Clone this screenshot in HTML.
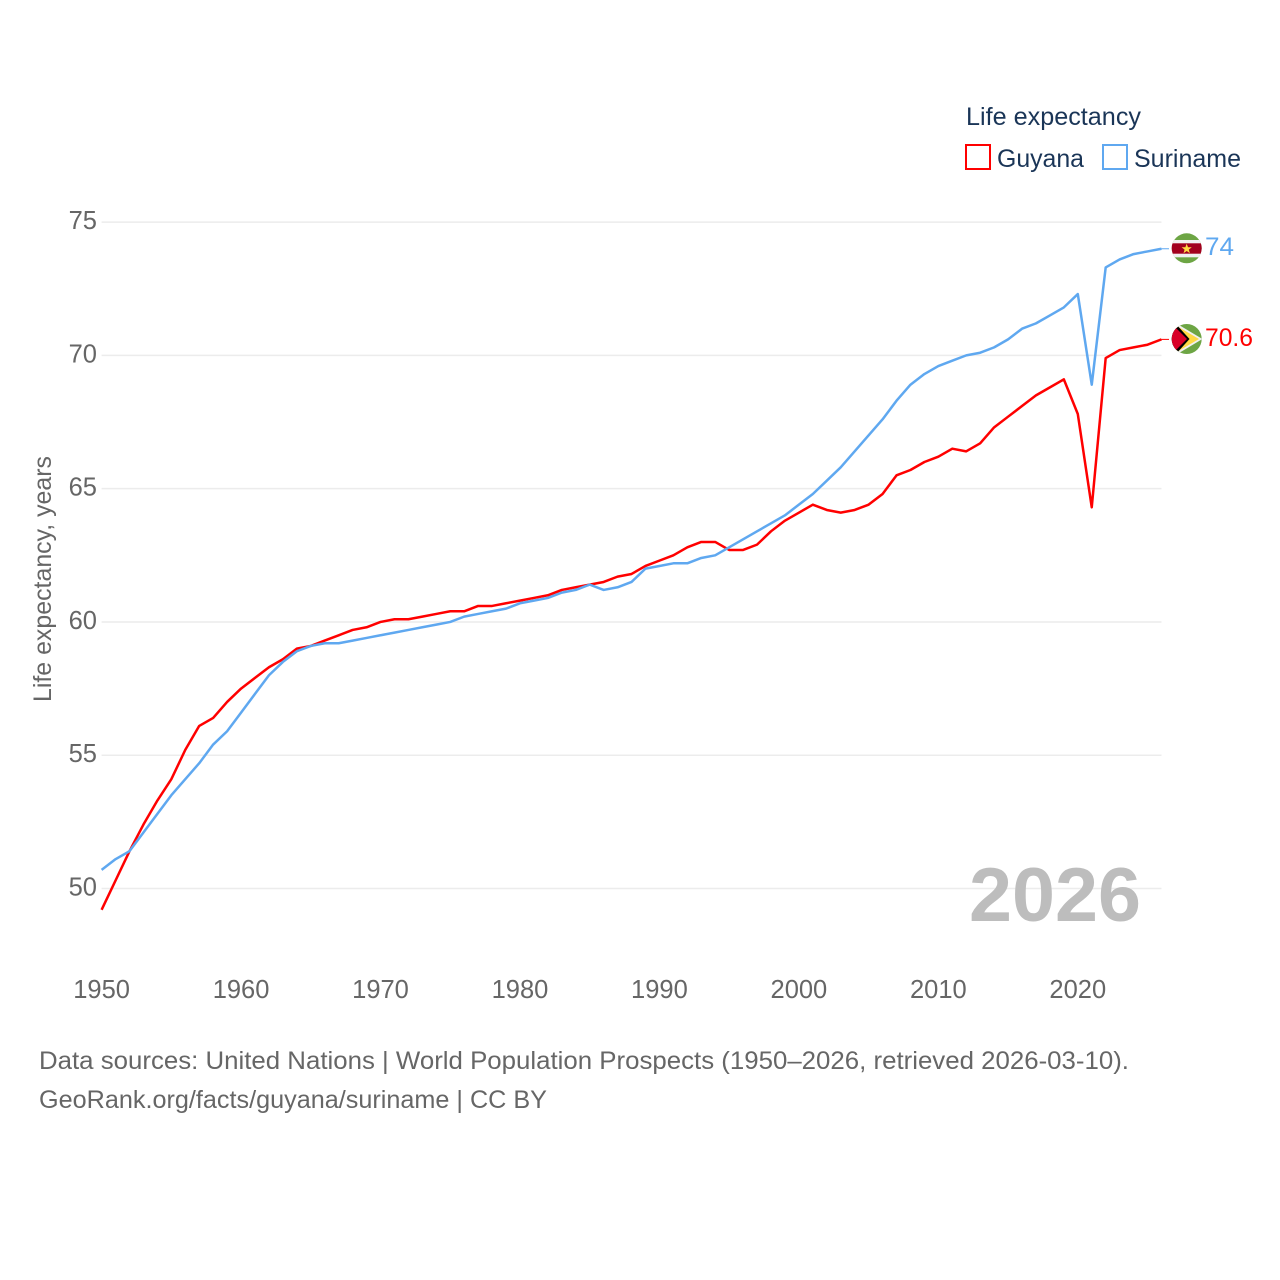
<!DOCTYPE html>
<html lang="en">
<head>
<meta charset="utf-8">
<title>Life expectancy: Guyana and Suriname</title>
<style>
html,body{margin:0;padding:0;background:#fff;}
svg{display:block;font-family:"Liberation Sans",sans-serif;}
</style>
</head>
<body>
<svg id="chart" xmlns="http://www.w3.org/2000/svg" width="1280" height="1280" viewBox="0 0 1280 1280">
  <rect width="1280" height="1280" fill="#fff"/>
  <g id="grid"></g>
  <g id="ylabels"></g>
  <g id="xlabels"></g>
  <text transform="translate(51,579) rotate(-90)" text-anchor="middle" font-size="25" fill="#666" textLength="246" lengthAdjust="spacingAndGlyphs">Life expectancy, years</text>
  <text x="969" y="921" font-size="76" font-weight="bold" fill="#bdbdbd" textLength="172" lengthAdjust="spacingAndGlyphs">2026</text>
  <g id="series"></g>

  <g>
    <clipPath id="clip-sr"><circle cx="1186.7" cy="248.3" r="15"/></clipPath>
    <g clip-path="url(#clip-sr)">
      <rect x="1171" y="233" width="31" height="31" fill="#6da544"/>
      <rect x="1171" y="240" width="31" height="17.3" fill="#f0f0f0"/>
      <rect x="1171" y="243.3" width="31" height="10.4" fill="#a2001d"/>
      <polygon points="1186.7,243.7 1188,247.3 1191.8,247.3 1188.8,249.6 1189.9,253.3 1186.7,251 1183.5,253.3 1184.6,249.6 1181.6,247.3 1185.4,247.3" fill="#ffda44"/>
    </g>
  </g>
  <g>
    <clipPath id="clip-gy"><circle cx="1186.7" cy="339" r="15"/></clipPath>
    <g clip-path="url(#clip-gy)">
      <rect x="1171" y="323" width="31" height="32" fill="#6da544"/>
      <polygon points="1174,322 1202.5,339 1174,356" fill="#f0f0f0"/>
      <polygon points="1176,325.5 1199,339 1176,352.5" fill="#ffda44"/>
      <polygon points="1171,323 1175,323 1189.5,339 1175,355 1171,355" fill="#000"/>
      <polygon points="1171,325 1173.5,325.5 1187,339 1173.5,352.5 1171,353" fill="#d80027"/>
    </g>
  </g>

  <text x="1205" y="255" font-size="25" fill="#5fa8f0" textLength="29" lengthAdjust="spacingAndGlyphs">74</text>
  <text x="1205" y="346" font-size="25" fill="#ff0000" textLength="48" lengthAdjust="spacingAndGlyphs">70.6</text>

  <g>
    <text x="966" y="125" font-size="25" fill="#1a3557" textLength="175" lengthAdjust="spacingAndGlyphs">Life expectancy</text>
    <g>
      <rect x="966" y="145" width="24" height="24" fill="#fff" stroke="#ff0000" stroke-width="2"/>
      <text x="997" y="167" font-size="25" fill="#1a3557" textLength="87" lengthAdjust="spacingAndGlyphs">Guyana</text>
    </g>
    <g>
      <rect x="1103" y="145" width="24" height="24" fill="#fff" stroke="#5fa8f0" stroke-width="2"/>
      <text x="1134" y="167" font-size="25" fill="#1a3557" textLength="107" lengthAdjust="spacingAndGlyphs">Suriname</text>
    </g>
  </g>

  <text x="39" y="1069" font-size="25" fill="#666" textLength="1090" lengthAdjust="spacingAndGlyphs">Data sources: United Nations | World Population Prospects (1950–2026, retrieved 2026-03-10).</text>
  <text x="39" y="1108" font-size="25" fill="#666" textLength="508" lengthAdjust="spacingAndGlyphs">GeoRank.org/facts/guyana/suriname | CC BY</text>
</svg>
<script>
const years = [1950,1951,1952,1953,1954,1955,1956,1957,1958,1959,1960,1961,1962,1963,1964,1965,1966,1967,1968,1969,1970,1971,1972,1973,1974,1975,1976,1977,1978,1979,1980,1981,1982,1983,1984,1985,1986,1987,1988,1989,1990,1991,1992,1993,1994,1995,1996,1997,1998,1999,2000,2001,2002,2003,2004,2005,2006,2007,2008,2009,2010,2011,2012,2013,2014,2015,2016,2017,2018,2019,2020,2021,2022,2023,2024,2025,2026];
const guyana = [49.2,50.3,51.4,52.4,53.3,54.1,55.2,56.1,56.4,57.0,57.5,57.9,58.3,58.6,59.0,59.1,59.3,59.5,59.7,59.8,60.0,60.1,60.1,60.2,60.3,60.4,60.4,60.6,60.6,60.7,60.8,60.9,61.0,61.2,61.3,61.4,61.5,61.7,61.8,62.1,62.3,62.5,62.8,63.0,63.0,62.7,62.7,62.9,63.4,63.8,64.1,64.4,64.2,64.1,64.2,64.4,64.8,65.5,65.7,66.0,66.2,66.5,66.4,66.7,67.3,67.7,68.1,68.5,68.8,69.1,67.8,64.3,69.9,70.2,70.3,70.4,70.6];
const suriname = [50.7,51.1,51.4,52.1,52.8,53.5,54.1,54.7,55.4,55.9,56.6,57.3,58.0,58.5,58.9,59.1,59.2,59.2,59.3,59.4,59.5,59.6,59.7,59.8,59.9,60.0,60.2,60.3,60.4,60.5,60.7,60.8,60.9,61.1,61.2,61.4,61.2,61.3,61.5,62.0,62.1,62.2,62.2,62.4,62.5,62.8,63.1,63.4,63.7,64.0,64.4,64.8,65.3,65.8,66.4,67.0,67.6,68.3,68.9,69.3,69.6,69.8,70.0,70.1,70.3,70.6,71.0,71.2,71.5,71.8,72.3,68.9,73.3,73.6,73.8,73.9,74.0];
const yTicks = [50,55,60,65,70,75];
const xTicks = [1950,1960,1970,1980,1990,2000,2010,2020];

const NS = 'http://www.w3.org/2000/svg';
function xScale(year){ return 101.6 + (year - 1950) * (1077.8 - 101.6) / 70; }
function yScale(value){ return 888.5 - (value - 50) * (888.5 - 222.1) / 25; }

const gridGroup = document.getElementById('grid');
const yGroup = document.getElementById('ylabels');
const xGroup = document.getElementById('xlabels');
const seriesGroup = document.getElementById('series');

yTicks.forEach(function(t){
  const line = document.createElementNS(NS,'line');
  
  
  line.setAttribute('x1', 101.6);
  line.setAttribute('x2', xScale(2026));
  line.setAttribute('y1', yScale(t));
  line.setAttribute('y2', yScale(t));
  line.setAttribute('stroke', '#ececec');
  line.setAttribute('stroke-width', 1.5);
  gridGroup.appendChild(line);

  const label = document.createElementNS(NS,'text');
  
  
  label.setAttribute('x', 97);
  label.setAttribute('y', yScale(t) + 7);
  label.setAttribute('text-anchor', 'end');
  label.setAttribute('font-size', 25.5);
  label.setAttribute('fill', '#666');
  label.textContent = t;
  yGroup.appendChild(label);
});

xTicks.forEach(function(t){
  const label = document.createElementNS(NS,'text');
  
  
  label.setAttribute('x', xScale(t));
  label.setAttribute('y', 998);
  label.setAttribute('text-anchor', 'middle');
  label.setAttribute('font-size', 25.5);
  label.setAttribute('fill', '#666');
  label.textContent = t;
  xGroup.appendChild(label);
});

function drawLine(values, color, name){
  const d = values.map(function(v,i){
    return (i ? 'L' : 'M') + xScale(years[i]).toFixed(2) + ' ' + yScale(v).toFixed(2);
  }).join(' ');
  const path = document.createElementNS(NS,'path');
  
  
  path.setAttribute('d', d);
  path.setAttribute('fill', 'none');
  path.setAttribute('stroke', color);
  path.setAttribute('stroke-width', 2.5);
  path.setAttribute('stroke-linejoin', 'round');
  seriesGroup.appendChild(path);

  const lastY = yScale(values[values.length - 1]);
  const connector = document.createElementNS(NS,'line');
  
  
  connector.setAttribute('x1', xScale(2026));
  connector.setAttribute('x2', 1169);
  connector.setAttribute('y1', lastY);
  connector.setAttribute('y2', lastY);
  connector.setAttribute('stroke', color);
  connector.setAttribute('stroke-width', 1);
  seriesGroup.appendChild(connector);
}
drawLine(guyana, '#ff0000', 'guyana-line');
drawLine(suriname, '#5fa8f0', 'suriname-line');
</script>
</body>
</html>
